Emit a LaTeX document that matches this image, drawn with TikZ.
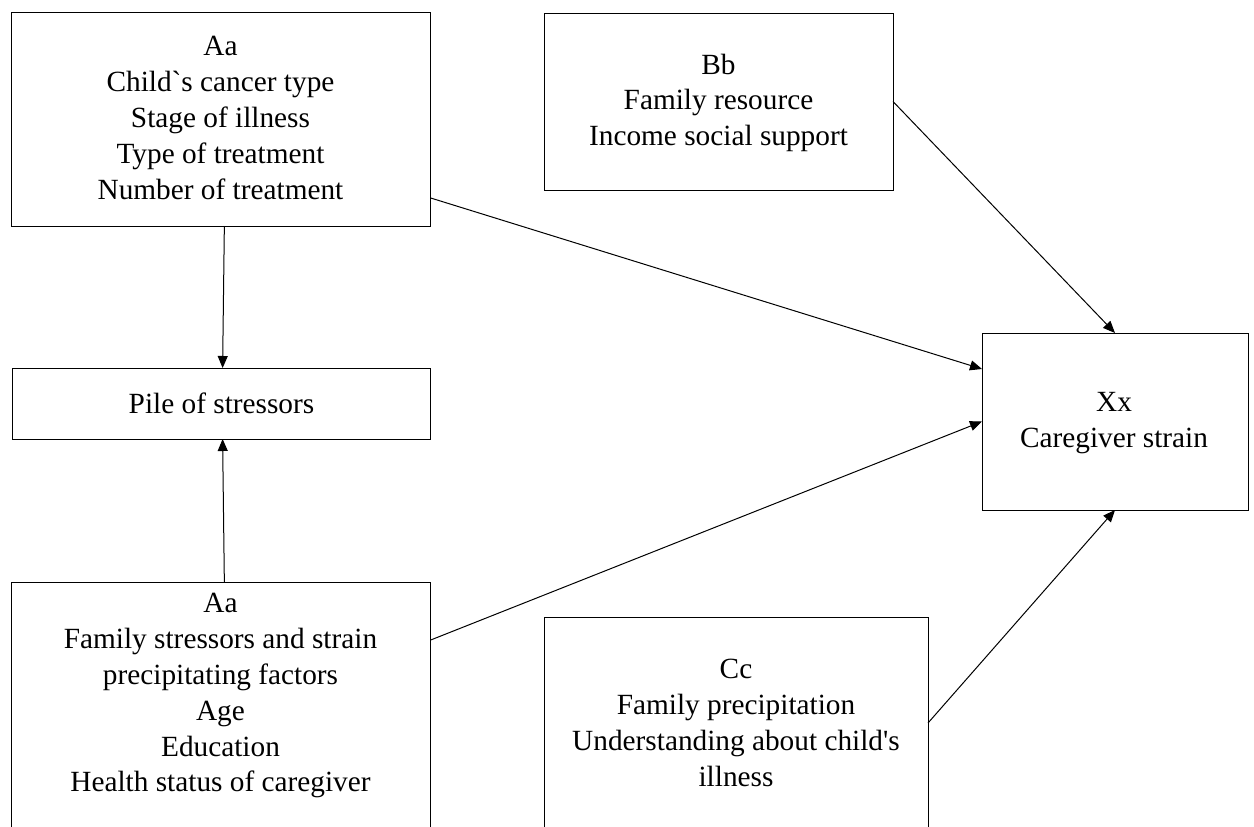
\documentclass[tikz,border=0pt]{standalone}
\usepackage{fontspec}
\setmainfont{Liberation Serif}[Ligatures=TeXOff]
\usetikzlibrary{arrows.meta}
\tikzset{
  box/.style={draw=black, line width=1pt, inner sep=0pt, outer sep=0pt, anchor=north west},
  txt/.style={inner sep=0pt, outer sep=0pt, align=center, anchor=north,
    font=\fontsize{29.3pt}{35.8pt}\selectfont},
  arr/.style={line width=1pt, -{Triangle[length=12pt,width=10pt]}}
}
\begin{document}
\begin{tikzpicture}[x=1pt,y=-1pt]
\useasboundingbox (0,0) rectangle (1254,827);
\clip (0,0) rectangle (1254,827);
\fill[white] (0,0) rectangle (1254,827);
% boxes
\node[box, minimum width=419.7pt, minimum height=214pt] (A1) at (11,12) {};
\node[box, minimum width=418.2pt, minimum height=71pt] (P) at (12.5,368) {};
\node[box, minimum width=419.7pt, minimum height=268pt] (A2) at (11,582) {};
\node[box, minimum width=349pt, minimum height=177pt] (B) at (544,13) {};
\node[box, minimum width=384pt, minimum height=233pt] (C) at (544,617) {};
\node[box, minimum width=266pt, minimum height=177pt] (X) at (982,333) {};
% texts
\node[txt] (tA1) at (220.5,36.5) {Aa\\Child`s cancer type\\Stage of illness\\Type of treatment\\Number of treatment};
\node[txt, anchor=base] (tP) at (221.5,413) {Pile of stressors};
\node[txt] (tA2) at (220.5,593.6) {Aa\\Family stressors and strain\\precipitating factors\\Age\\Education\\Health status of caregiver};
\node[txt] (tB) at (718.5,53.8) {Bb\\Family resource\\Income social support};
\node[txt] (tC) at (736,659.5) {Cc\\Family precipitation\\Understanding about child's\\illness};
\node[txt] (tX) at (1114,392.8) {Xx\\Caregiver strain};
% connectors
\draw[arr] ([xshift=3.5pt]A1.south) -- ([xshift=1pt]P.north);
\draw[arr] ([xshift=3.5pt]A2.north) -- ([xshift=1pt]P.south);
\draw[arr] ([yshift=-79pt]A1.east) -- ([yshift=52.5pt]X.west);
\draw[arr] ([yshift=76pt]A2.east) -- (X.west);
\draw[arr] (B.east) -- (X.north);
\draw[arr] ([yshift=10.5pt]C.east) -- (X.south);
\end{tikzpicture}
\end{document}
